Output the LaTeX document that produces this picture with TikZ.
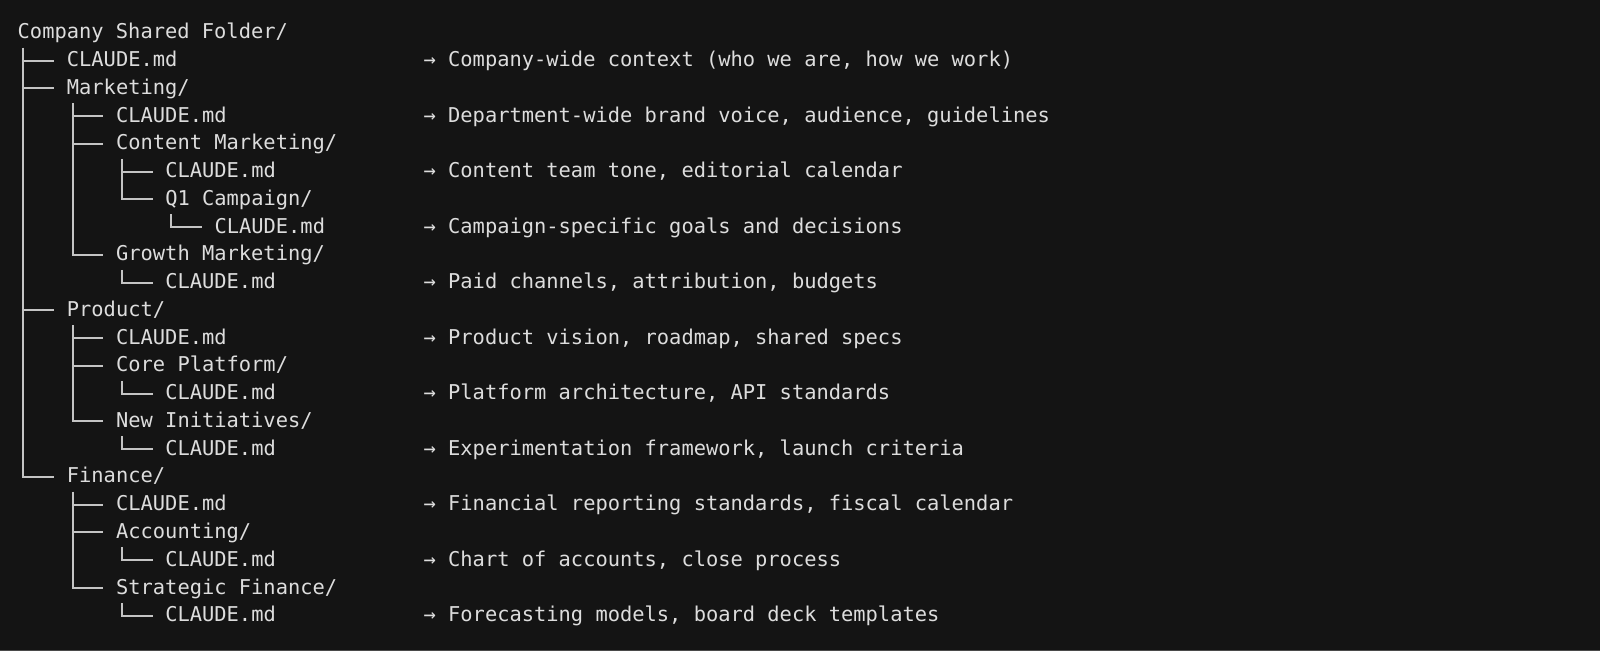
\documentclass[tikz,border=0pt]{standalone}
\usepackage{fontspec}
\setmonofont{DejaVu Sans Mono}
\usetikzlibrary{calc}
\definecolor{termbg}{HTML}{141414}
\definecolor{termfg}{HTML}{DDDDDD}
\definecolor{treeline}{HTML}{C4C4C4}
\definecolor{termedge}{HTML}{4A4A4A}

\begin{document}
\begin{tikzpicture}[x=0.5pt,y=-0.5pt,
  entry/.style={anchor=base west,inner sep=0,text=termfg,font=\ttfamily\fontsize{10.2}{12}\selectfont},
  note/.style={entry},
  branch/.style={draw=treeline,line width=1pt}]
\useasboundingbox (0,0) rectangle (1600,651);
\fill[termbg] (0,0) rectangle (1600,651);
\fill[termedge] (0,649.5) rectangle (1600,651);
% folders and files
\node[entry] (root) at (17.3,39) {Company Shared Folder/};
\node[entry] (rootmd) at (66.5,66.75) {CLAUDE.md};
\node[entry] (mkt) at (66.5,94.5) {Marketing/};
\node[entry] (mktmd) at (115.7,122.25) {CLAUDE.md};
\node[entry] (cmkt) at (115.7,150) {Content Marketing/};
\node[entry] (cmktmd) at (164.9,177.75) {CLAUDE.md};
\node[entry] (qone) at (164.9,205.5) {Q1 Campaign/};
\node[entry] (qonemd) at (214.1,233.25) {CLAUDE.md};
\node[entry] (gmkt) at (115.7,261) {Growth Marketing/};
\node[entry] (gmktmd) at (164.9,288.75) {CLAUDE.md};
\node[entry] (prod) at (66.5,316.5) {Product/};
\node[entry] (prodmd) at (115.7,344.25) {CLAUDE.md};
\node[entry] (core) at (115.7,372) {Core Platform/};
\node[entry] (coremd) at (164.9,399.75) {CLAUDE.md};
\node[entry] (newi) at (115.7,427.5) {New Initiatives/};
\node[entry] (newimd) at (164.9,455.25) {CLAUDE.md};
\node[entry] (fin) at (66.5,483) {Finance/};
\node[entry] (finmd) at (115.7,510.75) {CLAUDE.md};
\node[entry] (acct) at (115.7,538.5) {Accounting/};
\node[entry] (acctmd) at (164.9,566.25) {CLAUDE.md};
\node[entry] (sfin) at (115.7,594) {Strategic Finance/};
\node[entry] (sfinmd) at (164.9,621.75) {CLAUDE.md};
% notes
\node[note] (rootnote) at (423.2,66.75) {→ Company-wide context (who we are, how we work)};
\node[note] (mktnote) at (423.2,122.25) {→ Department-wide brand voice, audience, guidelines};
\node[note] (cmktnote) at (423.2,177.75) {→ Content team tone, editorial calendar};
\node[note] (qonenote) at (423.2,233.25) {→ Campaign-specific goals and decisions};
\node[note] (gmktnote) at (423.2,288.75) {→ Paid channels, attribution, budgets};
\node[note] (prodnote) at (423.2,344.25) {→ Product vision, roadmap, shared specs};
\node[note] (corenote) at (423.2,399.75) {→ Platform architecture, API standards};
\node[note] (newinote) at (423.2,455.25) {→ Experimentation framework, launch criteria};
\node[note] (finnote) at (423.2,510.75) {→ Financial reporting standards, fiscal calendar};
\node[note] (acctnote) at (423.2,566.25) {→ Chart of accounts, close process};
\node[note] (sfinnote) at (423.2,621.75) {→ Forecasting models, board deck templates};
% tree lines
\foreach \p/\c in {root/rootmd,root/mkt,root/prod,root/fin,
    mkt/mktmd,mkt/cmkt,mkt/gmkt,cmkt/cmktmd,cmkt/qone,qone/qonemd,gmkt/gmktmd,
    prod/prodmd,prod/core,prod/newi,core/coremd,newi/newimd,
    fin/finmd,fin/acct,fin/sfin,acct/acctmd,sfin/sfinmd}
  \draw[branch] ($(\p.base west)+(6.15,9)$) |- ($(\c.base west)+(-12.3,-6)$);
\end{tikzpicture}
\end{document}
